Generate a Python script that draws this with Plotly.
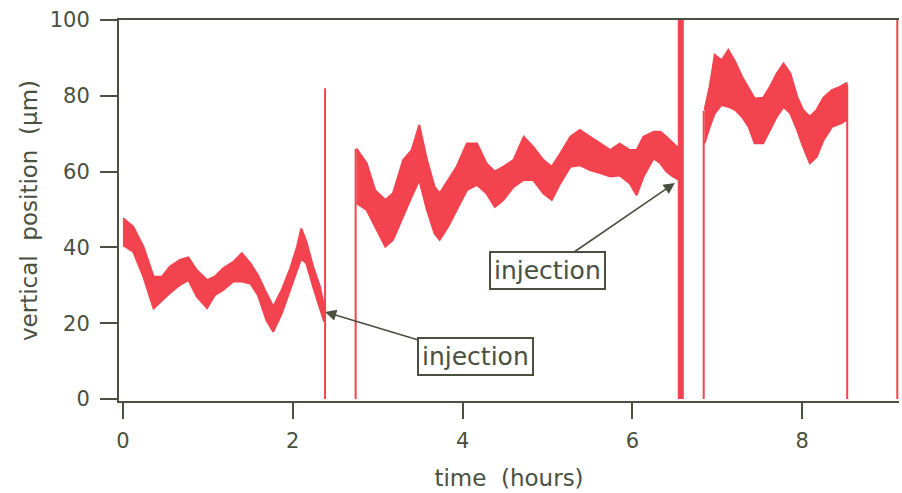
import plotly.graph_objects as go

# ---- data (envelope of the noisy trace) ----
seg1_t  = [0.00, 0.12, 0.24, 0.36, 0.46, 0.55, 0.67, 0.77, 0.87, 0.99, 1.08, 1.18, 1.30, 1.40, 1.50, 1.59, 1.69, 1.77, 1.87, 1.97, 2.05, 2.10, 2.16, 2.24, 2.32, 2.37]
seg1_hi = [47.7, 45.5, 40.2, 32.3, 32.3, 34.9, 36.7, 37.4, 34.0, 31.4, 32.3, 34.5, 36.2, 38.5, 35.8, 32.7, 27.9, 24.4, 28.8, 34.5, 40.2, 45.0, 41.5, 34.9, 29.6, 24.4]
seg1_lo = [40.6, 38.9, 32.3, 23.9, 26.1, 27.9, 30.1, 31.4, 27.0, 24.0, 27.4, 28.8, 31.0, 31.0, 30.5, 27.4, 20.8, 17.8, 22.6, 28.8, 34.0, 37.1, 35.8, 29.6, 23.9, 20.4]

seg2_t  = [2.75, 2.87, 2.97, 3.09, 3.18, 3.30, 3.40, 3.49, 3.58, 3.67, 3.73, 3.83, 3.93, 4.05, 4.17, 4.28, 4.38, 4.48, 4.60, 4.72, 4.83, 4.95, 5.05, 5.15, 5.27, 5.38, 5.50, 5.62, 5.74, 5.85, 5.97, 6.05, 6.13, 6.25, 6.33, 6.40, 6.48, 6.55]
seg2_hi = [66.1, 62.2, 55.1, 52.5, 54.3, 63.1, 65.7, 72.3, 63.1, 56.0, 54.3, 57.8, 61.3, 67.4, 67.4, 62.2, 60.0, 61.3, 63.1, 69.2, 66.6, 63.1, 61.3, 64.8, 69.2, 71.0, 69.2, 67.4, 65.7, 67.4, 65.7, 65.7, 69.2, 70.5, 70.5, 69.2, 67.4, 66.0]
seg2_lo = [51.7, 49.9, 45.5, 40.2, 42.0, 48.1, 53.4, 57.8, 49.9, 43.7, 42.0, 45.5, 49.9, 55.1, 56.5, 54.3, 50.7, 52.5, 56.0, 57.8, 57.8, 54.3, 52.5, 56.9, 61.3, 61.7, 60.4, 59.6, 58.7, 59.0, 56.9, 53.8, 58.7, 63.5, 62.2, 60.0, 58.7, 57.8]

seg3_t  = [6.85, 6.91, 6.97, 7.05, 7.13, 7.21, 7.29, 7.37, 7.44, 7.54, 7.62, 7.70, 7.78, 7.86, 7.94, 8.01, 8.09, 8.17, 8.25, 8.35, 8.45, 8.52]
seg3_hi = [76.3, 82.4, 90.8, 89.4, 92.1, 89.0, 85.1, 81.9, 79.3, 79.5, 82.4, 85.9, 88.5, 85.9, 79.8, 76.3, 74.5, 76.3, 79.5, 81.5, 82.4, 83.3]
seg3_lo = [67.5, 71.8, 75.4, 77.6, 77.1, 76.3, 74.5, 71.8, 67.5, 67.5, 71.0, 74.5, 77.1, 75.4, 71.0, 66.6, 62.2, 63.9, 68.3, 71.8, 72.7, 73.6]

# vertical marker lines (time, top value)
vline_t   = [2.38, 2.74, 6.84, 8.53, 9.12]
vline_top = [82.0, 66.0, 76.0, 83.0, 100.0]
thick_t   = [6.57]
thick_top = [100.0]

x_ticks = [0, 2, 4, 6, 8]
y_ticks = [0, 20, 40, 60, 80, 100]

# annotations: (time, value) of arrow tips
inj_t = [2.38, 6.50]
inj_y = [23.0, 57.0]
inj_label = "injection"

RED = "#f3434f"
INK = "#4a5040"

fig = go.Figure()

for t, hi, lo in [(seg1_t, seg1_hi, seg1_lo), (seg2_t, seg2_hi, seg2_lo), (seg3_t, seg3_hi, seg3_lo)]:
    xs = list(t) + list(reversed(t))
    ys = list(hi) + list(reversed(lo))
    fig.add_trace(go.Scatter(x=xs, y=ys, mode="lines", fill="toself",
                             fillcolor=RED, line=dict(color=RED, width=2),
                             hoverinfo="skip", showlegend=False))

for t, top in zip(vline_t, vline_top):
    fig.add_trace(go.Scatter(x=[t, t], y=[0, top], mode="lines",
                             line=dict(color=RED, width=2), showlegend=False, hoverinfo="skip",
                             cliponaxis=False))
for t, top in zip(thick_t, thick_top):
    fig.add_trace(go.Scatter(x=[t, t], y=[0, top], mode="lines",
                             line=dict(color=RED, width=6), showlegend=False, hoverinfo="skip"))

ann_offsets = [(150, 45), (-127, 87)]
for (t, v), (ax, ay) in zip(zip(inj_t, inj_y), ann_offsets):
    fig.add_annotation(x=t, y=v, xref="x", yref="y", text=inj_label,
                       showarrow=True, ax=ax, ay=ay, axref="pixel", ayref="pixel",
                       arrowhead=2, arrowsize=1.4, arrowwidth=1.6, arrowcolor=INK,
                       bordercolor=INK, borderwidth=2, borderpad=3, bgcolor="white",
                       font=dict(family="DejaVu Sans", size=25, color=INK))

fig.update_layout(
    width=902, height=493, autosize=False,
    margin=dict(l=119, r=3, t=20, b=92, pad=0),
    paper_bgcolor="white", plot_bgcolor="white",
    font=dict(family="DejaVu Sans", color=INK, size=20),
    showlegend=False,
)
fig.update_xaxes(range=[-0.047, 9.14], showgrid=False, zeroline=False, automargin=False,
                 showline=True, linecolor=INK, linewidth=2, mirror=True,
                 ticks="outside", ticklen=16, tickwidth=2, tickcolor=INK,
                 tickvals=x_ticks, ticklabelstandoff=4,
                 tickfont=dict(size=21, color=INK),
                 title=dict(text="time\u00a0\u00a0(hours)", font=dict(size=23, color=INK), standoff=18))
fig.update_yaxes(range=[-0.5, 100], showgrid=False, zeroline=False, automargin=False,
                 showline=True, linecolor=INK, linewidth=2,
                 ticks="outside", ticklen=17, tickwidth=2, tickcolor=INK,
                 tickvals=y_ticks, ticklabelstandoff=6,
                 tickfont=dict(size=21, color=INK),
                 title=dict(text="vertical\u00a0\u00a0position\u00a0\u00a0(µm)", font=dict(size=23, color=INK), standoff=6))

fig.write_html("out.html", config={"displayModeBar": False},
               post_script="document.body.style.margin='0';document.body.style.overflow='hidden';")
